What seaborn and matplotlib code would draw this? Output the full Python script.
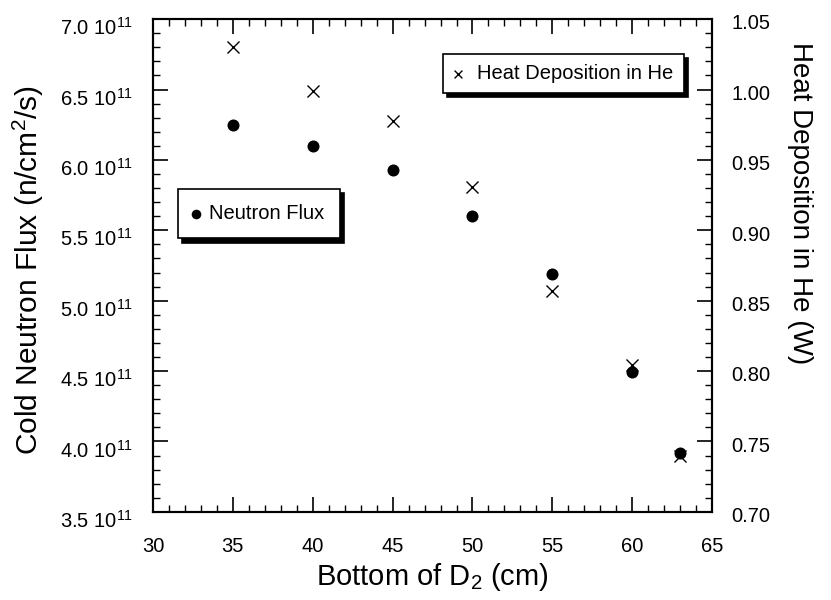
import numpy as np
import pandas as pd
import matplotlib
matplotlib.use("Agg")
import matplotlib.pyplot as plt
import matplotlib.ticker as ticker
import matplotlib.transforms as mtrans
import seaborn as sns

# values
bottom_d2 = [35, 40, 45, 50, 55, 60, 63]
neutron_flux = [6.25e11, 6.10e11, 5.93e11, 5.60e11, 5.19e11, 4.49e11, 3.915e11]
heat_he = [1.030, 0.999, 0.978, 0.931, 0.857, 0.804, 0.740]

left_ticks = [3.5, 4.0, 4.5, 5.0, 5.5, 6.0, 6.5, 7.0]
left_labels = ["%.1f 10$^{11}$" % v for v in left_ticks]

df = pd.DataFrame({"d2": bottom_d2, "flux": neutron_flux, "heat": heat_he})

sns.set_style("ticks", {"axes.edgecolor": "black", "text.color": "black",
                        "axes.labelcolor": "black", "xtick.color": "black",
                        "ytick.color": "black"})
plt.rcParams["font.family"] = ["Liberation Sans", "DejaVu Sans"]
plt.rcParams["mathtext.fontset"] = "custom"
plt.rcParams["mathtext.rm"] = "Liberation Sans"

fig = plt.figure(figsize=(8.31, 6.0), dpi=100)
ax = fig.add_axes([0.184, 0.147, 0.673, 0.821])
ax2 = ax.twinx()

sns.scatterplot(data=df, x="d2", y="flux", ax=ax, color="black", marker="o",
                s=75, edgecolor="black", linewidth=0, label="Neutron Flux", legend=False)
sns.scatterplot(data=df, x="d2", y="heat", ax=ax2, color="black", marker="x",
                s=75, linewidth=1.0, label="Heat Deposition in He", legend=False)

ax.set_xlim(30, 65)
ax.set_ylim(3.5e11, 7.0e11)
ax2.set_ylim(0.70, 1.05)

ax.set_xticks([30, 35, 40, 45, 50, 55, 60, 65])
ax.xaxis.set_minor_locator(ticker.MultipleLocator(1))
ax.set_yticks([v * 1e11 for v in left_ticks])
ax.set_yticklabels(left_labels)
ax.yaxis.set_minor_locator(ticker.MultipleLocator(0.1e11))
ax2.set_yticks([0.70, 0.75, 0.80, 0.85, 0.90, 0.95, 1.00, 1.05])
ax2.yaxis.set_major_formatter(ticker.FormatStrFormatter("%.2f"))
ax2.yaxis.set_minor_locator(ticker.MultipleLocator(0.01))

ax.tick_params(axis="both", which="major", direction="in", length=11, width=1.2,
               labelsize=14.5, top=True)
ax.tick_params(axis="x", pad=18)
ax.tick_params(axis="y", pad=14)
ax.tick_params(axis="both", which="minor", direction="in", length=5, width=1.0, top=True)
ax.tick_params(axis="y", right=False, which="both")
ax2.tick_params(axis="y", which="major", direction="in", length=11, width=1.2,
                labelsize=14.5, pad=14)
ax2.tick_params(axis="y", which="minor", direction="in", length=5, width=1.0)

# nudge y tick labels down a little, like the reference
for lab in ax.get_yticklabels():
    lab.set_transform(lab.get_transform() + mtrans.ScaledTranslation(0, -5 / 72, fig.dpi_scale_trans))
for lab in ax2.get_yticklabels():
    lab.set_transform(lab.get_transform() + mtrans.ScaledTranslation(0, -2 / 72, fig.dpi_scale_trans))

for a in (ax, ax2):
    for sp in a.spines.values():
        sp.set_linewidth(1.5)
        sp.set_visible(True)
        sp.set_color("black")

ax.set_xlabel("Bottom of D$_2$ (cm)", fontsize=21, labelpad=4)
ax.set_ylabel("Cold Neutron Flux (n/cm$^2$/s)", fontsize=21.5)
ax.yaxis.label.set_va("center")
ax.yaxis.set_label_coords(-0.224, 0.49)
ax2.set_ylabel("Heat Deposition in He (W)", fontsize=20, rotation=-90)
ax2.yaxis.label.set_va("center")
ax2.yaxis.set_label_coords(1.157, 0.627)

shadow = {"color": "black", "alpha": 1.0, "ox": 3, "oy": -3}
h1, l1 = ax.get_legend_handles_labels()
leg1 = ax.legend(h1, l1, loc="upper left", bbox_to_anchor=(0.045, 0.655), fontsize=14.5,
                 frameon=True, fancybox=False, shadow=shadow, edgecolor="black",
                 framealpha=1, handletextpad=0.5, handlelength=0.3, borderpad=0.75,
                 borderaxespad=0, markerscale=0.8)
leg1.get_frame().set_linewidth(1.2)
h2, l2 = ax2.get_legend_handles_labels()
leg2 = ax2.legend(h2, l2, loc="upper left", bbox_to_anchor=(0.519, 0.929), fontsize=14.5,
                  frameon=True, fancybox=False, shadow=shadow, edgecolor="black",
                  framealpha=1, handletextpad=0.7, handlelength=0.5, borderpad=0.5,
                  borderaxespad=0, markerscale=0.65)
leg2.get_frame().set_linewidth(1.2)

fig.savefig("out.png", dpi=100)
